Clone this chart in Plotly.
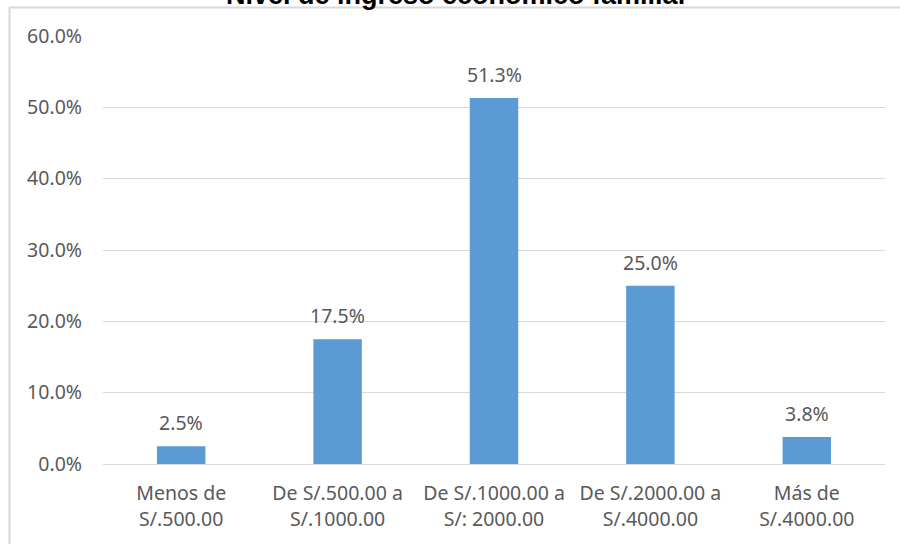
import plotly.graph_objects as go

categories = ["Menos de<br>S/.500.00", "De S/.500.00 a<br>S/.1000.00", "De S/.1000.00 a<br>S/: 2000.00",
              "De S/.2000.00 a<br>S/.4000.00", "Más de<br>S/.4000.00"]
values = [2.5, 17.5, 51.3, 25.0, 3.8]
labels = [f"{v:.1f}%" for v in values]
title_text = "Nivel de ingreso económico familiar"

W, H = 900, 544
L, R, T, B = 103, 15, 36, 80
pw, ph = W - L - R, H - T - B

def px_x(x):
    return (x - L) / pw

def px_y(y):
    return 1 + (T - y) / ph

FONT = "Noto Sans"
GRAY = "#595959"
FS = 19.5

fig = go.Figure()
fig.add_trace(go.Bar(
    x=categories, y=values,
    marker=dict(color="#5B9BD5", line=dict(width=0)),
    width=0.31, hoverinfo="skip",
))

annotations = [dict(
    text=f"<b>{title_text}</b>", x=px_x(457), y=px_y(11.5),
    xref="paper", yref="paper", xanchor="center", yanchor="bottom",
    showarrow=False, font=dict(family="Liberation Sans", size=27, color="black"),
)]
for c, v, t in zip(categories, values, labels):
    annotations.append(dict(
        text=t, x=c, y=v, xref="x", yref="y", xanchor="center", yanchor="bottom",
        yshift=8, showarrow=False, font=dict(family=FONT, size=FS, color=GRAY),
    ))

fig.update_layout(
    width=W, height=H,
    margin=dict(l=L, r=R, t=T, b=B),
    paper_bgcolor="white", plot_bgcolor="white",
    showlegend=False,
    font=dict(family=FONT, size=FS, color=GRAY),
    annotations=annotations,
    shapes=[
        dict(type="line", xref="paper", yref="paper", x0=px_x(9), x1=1.2, y0=px_y(7.5), y1=px_y(7.5),
             line=dict(color="#d9d9d9", width=2), layer="above"),
        dict(type="line", xref="paper", yref="paper", x0=px_x(9.5), x1=px_x(9.5), y0=px_y(7), y1=-0.3,
             line=dict(color="#d9d9d9", width=2), layer="above"),
    ],
)
fig.update_yaxes(range=[0, 60], dtick=10, tickformat=".1f", ticksuffix="%",
                 showgrid=True, gridcolor="#d9d9d9", gridwidth=1, zeroline=False,
                 showline=False, ticks="", ticklabelstandoff=20,
                 tickfont=dict(family=FONT, size=FS, color=GRAY))
fig.update_xaxes(showline=True, linecolor="#d9d9d9", linewidth=1, ticks="",
                 showgrid=False, ticklabelstandoff=12,
                 tickfont=dict(family=FONT, size=FS, color=GRAY))

fig.write_html("out.html", config={"displayModeBar": False},
               post_script="document.body.style.margin='0';document.body.style.overflow='hidden';")
